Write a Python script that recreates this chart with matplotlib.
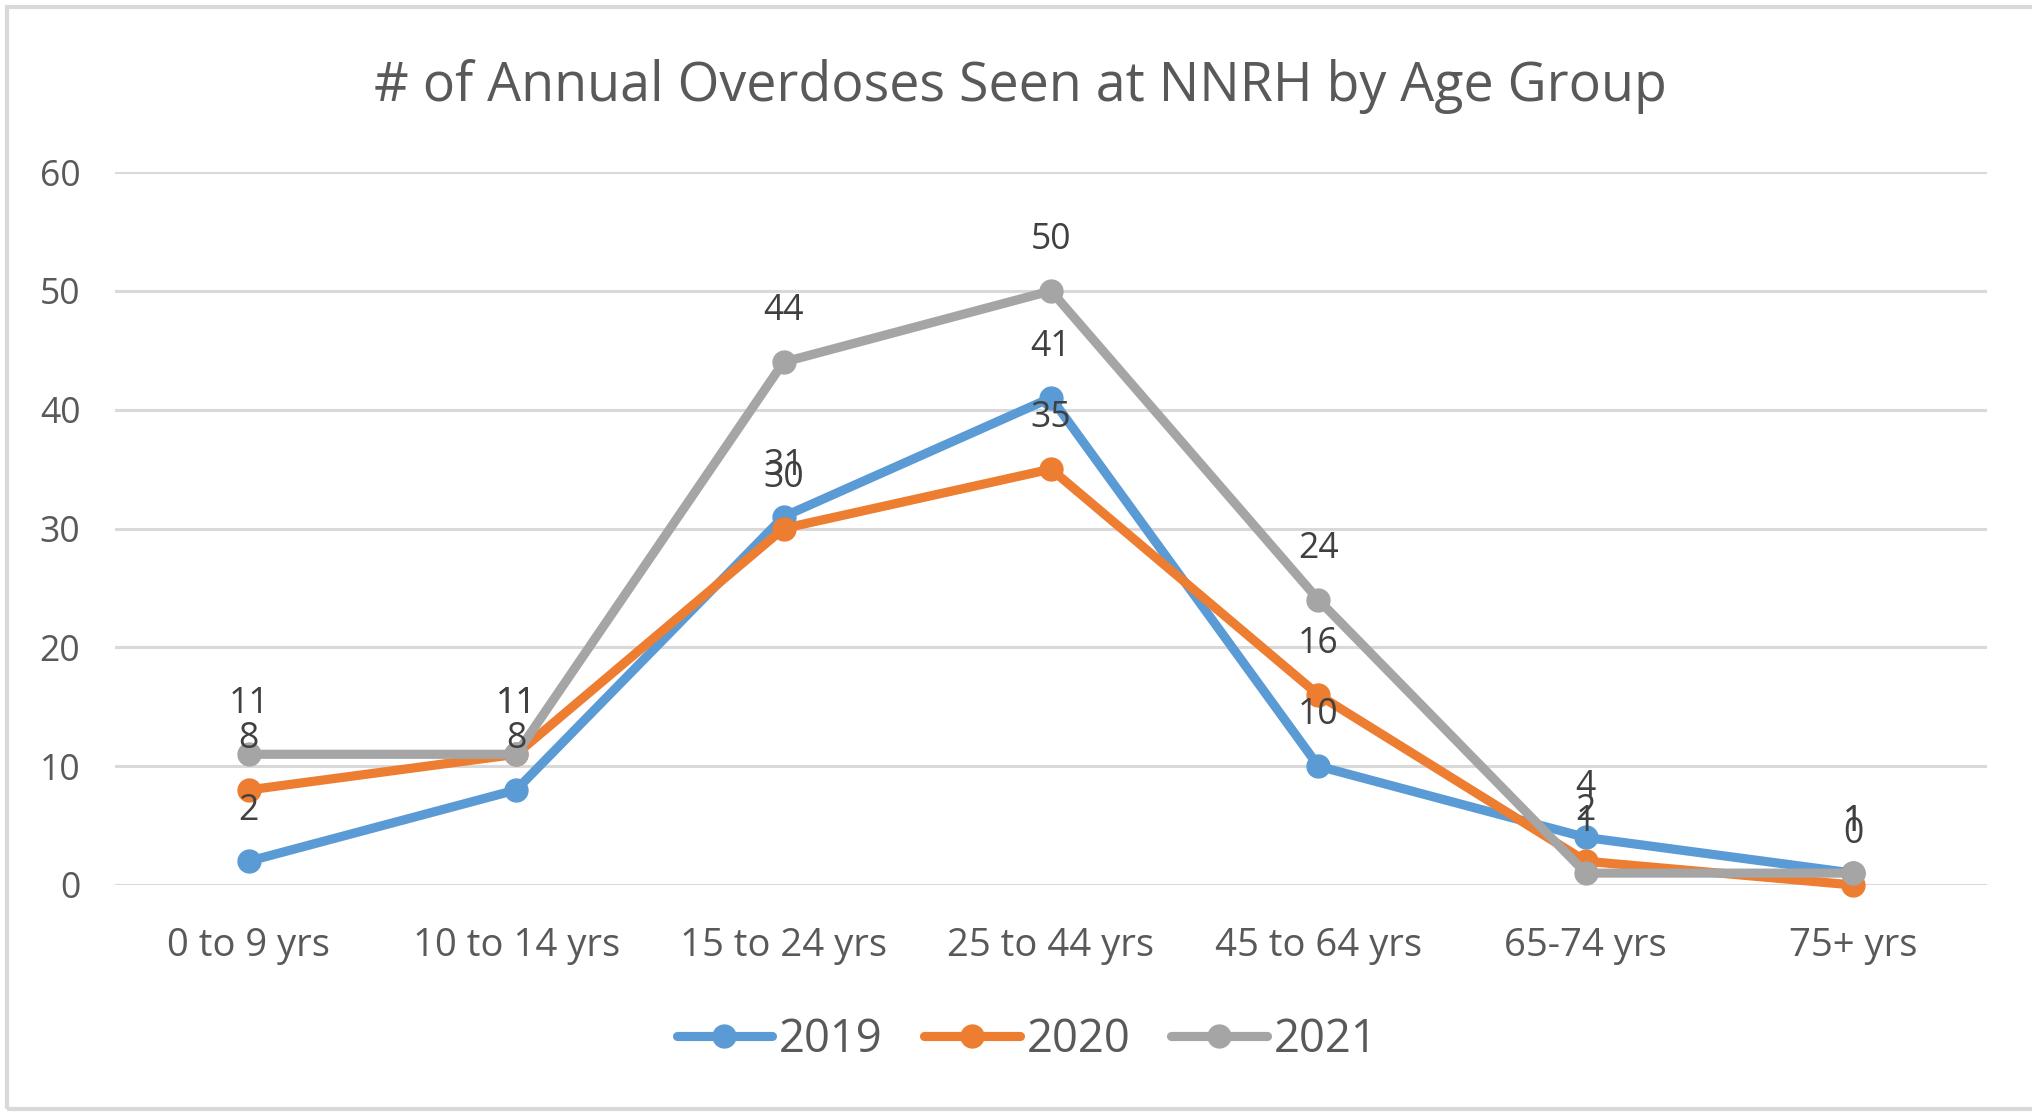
import matplotlib
matplotlib.use("Agg")
import matplotlib.pyplot as plt
from matplotlib.patches import Rectangle

categories = ["0 to 9 yrs", "10 to 14 yrs", "15 to 24 yrs", "25 to 44 yrs",
              "45 to 64 yrs", "65-74 yrs", "75+ yrs"]
series_names = ["2019", "2020", "2021"]
values_2019 = [2, 8, 31, 41, 10, 4, 1]
values_2020 = [8, 11, 30, 35, 16, 2, 0]
values_2021 = [11, 11, 44, 50, 24, 1, 1]
y_ticks = [0, 10, 20, 30, 40, 50, 60]
title = "# of Annual Overdoses Seen at NNRH by Age Group"

colors = ["#5B9BD5", "#ED7D31", "#A5A5A5"]
text_color = "#595959"
label_color = "#404040"
grid_color = "#D9D9D9"

plt.rcParams['font.family'] = ['Open Sans', 'DejaVu Sans']

W, H, DPI = 2033, 1112, 100
fig = plt.figure(figsize=(W / DPI, H / DPI), dpi=DPI)
fig.patch.set_facecolor("white")

# outer chart border
fig.patches.append(Rectangle((7 / W, 1 - 1109 / H), 1.1, (1109 - 7) / H,
                             transform=fig.transFigure, fill=False,
                             edgecolor="#D9D9D9", linewidth=3, zorder=0))

ax = fig.add_axes([115 / W, 1 - 885 / H, (1987 - 115) / W, (885 - 172) / H])
x = list(range(len(categories)))

ax.set_xlim(-0.5, len(categories) - 0.5)
ax.set_ylim(0, 60)
ax.set_yticks(y_ticks)
ax.set_xticks(x)
ax.set_xticklabels(categories)
for s in ax.spines.values():
    s.set_visible(False)
ax.grid(axis="y", color=grid_color, linewidth=2.2, zorder=0)
ax.set_axisbelow(True)
ax.tick_params(axis="both", length=0, labelcolor=text_color)
ax.tick_params(axis="y", pad=25, labelsize=25.6)
ax.tick_params(axis="x", pad=30, labelsize=27.5)

all_series = [values_2019, values_2020, values_2021]
for i, (name, vals) in enumerate(zip(series_names, all_series)):
    ax.plot(x, vals, color=colors[i], linewidth=6.6, marker="o",
            markersize=16.5, solid_capstyle="round", solid_joinstyle="round",
            label=name, zorder=3 + i, clip_on=False)

for vals in all_series:
    for xi, v in zip(x, vals):
        ax.annotate(str(v), (xi, v), xytext=(0, 36.5), textcoords="offset points",
                    ha="center", va="center", fontsize=25.6, color=label_color,
                    zorder=10)

# title
fig.text(1020 / W, 1 - 87 / H, title, ha="center", va="center",
         fontsize=38.7, color=text_color)

fig.legend(loc="center", bbox_to_anchor=(1027 / W, 1 - 1040 / H),
           ncol=3, frameon=False, fontsize=32.8, handlelength=2.1,
           handletextpad=0.15, columnspacing=0.9, labelcolor=text_color)

fig.savefig("out.png", dpi=DPI)
